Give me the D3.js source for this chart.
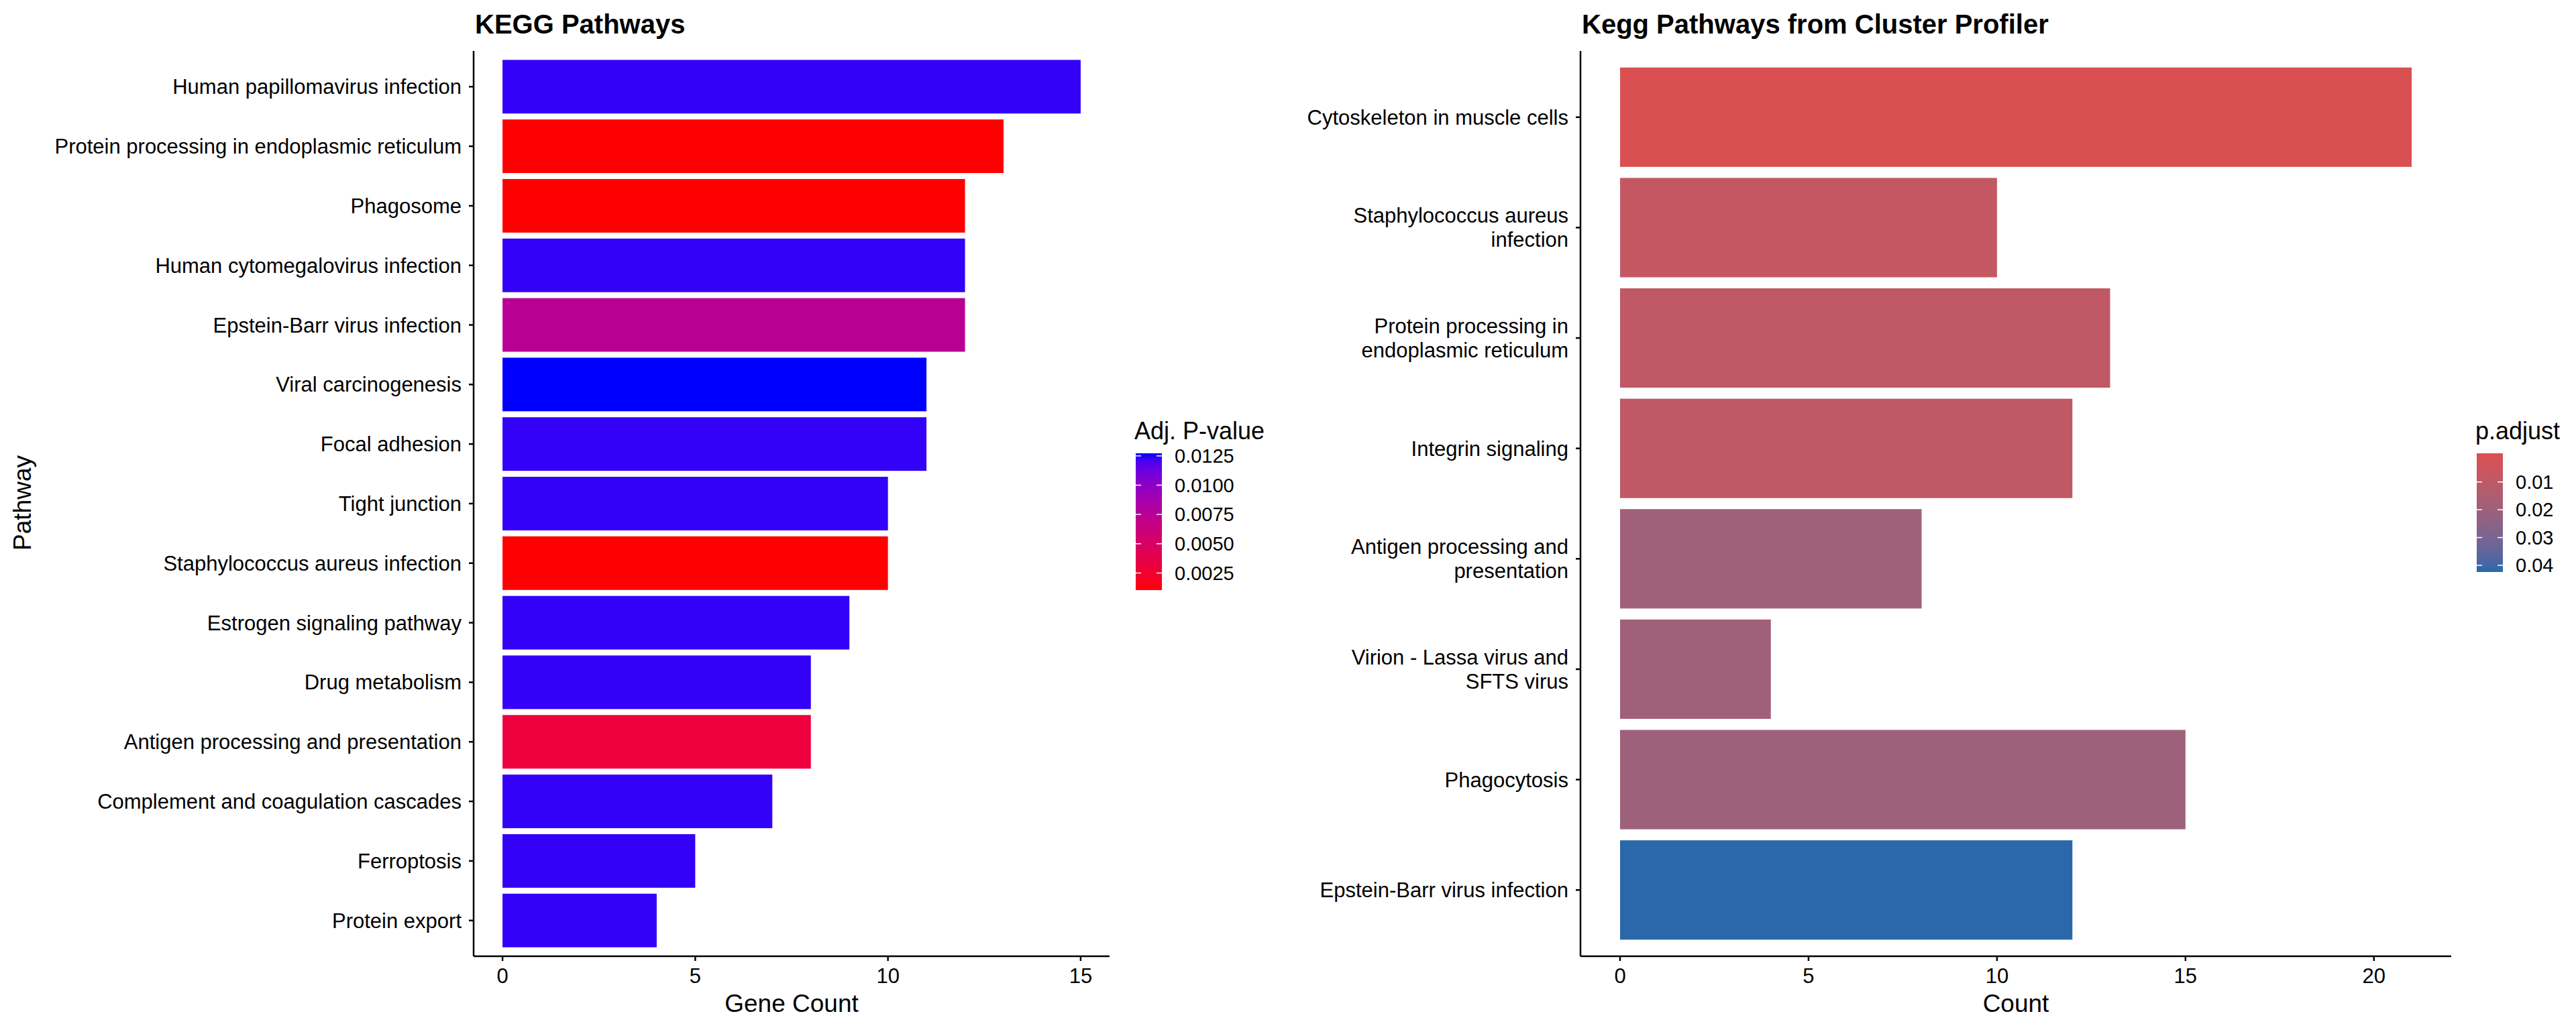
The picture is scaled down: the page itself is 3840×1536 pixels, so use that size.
<!DOCTYPE html>
<html><head><meta charset="utf-8">
<script src="https://cdn.jsdelivr.net/npm/d3@7"></script>
<style>body{margin:0;background:#fff}text{font-family:"Liberation Sans",Arial,sans-serif}</style>
</head><body><svg id="c" width="3840" height="1536"></svg>
<script>
const leftPathways=["Human papillomavirus infection","Protein processing in endoplasmic reticulum","Phagosome","Human cytomegalovirus infection","Epstein-Barr virus infection","Viral carcinogenesis","Focal adhesion","Tight junction","Staphylococcus aureus infection","Estrogen signaling pathway","Drug metabolism","Antigen processing and presentation","Complement and coagulation cascades","Ferroptosis","Protein export"];
const leftCounts=[15,13,12,12,12,11,11,10,10,9,8,8,7,5,4];
const leftPadj=[0.0124,0.00104,0.00104,0.0124,0.0075,0.01272,0.0124,0.0124,0.00104,0.0124,0.0124,0.0030,0.0124,0.0124,0.0124];
const leftLegendTicks=[0.0125,0.0100,0.0075,0.0050,0.0025];
const leftXTicks=[0,5,10,15];

const rightPathways=["Cytoskeleton in muscle cells","Staphylococcus aureus\ninfection","Protein processing in\nendoplasmic reticulum","Integrin signaling","Antigen processing and\npresentation","Virion - Lassa virus and\nSFTS virus","Phagocytosis","Epstein-Barr virus infection"];
const rightCounts=[21,10,13,12,8,4,15,12];
const rightPadj=[0.0002,0.008,0.009,0.009,0.019,0.019,0.020,0.0424];
const rightLegendTicks=[0.01,0.02,0.03,0.04];
const rightXTicks=[0,5,10,15,20];

const svg=d3.select("#c");

function panel(o){
  const g=svg.append("g");
  const x=d3.scaleLinear().domain(o.xdom).range([o.x0,o.x1]);
  const n=o.cats.length, top=76, bot=1426;
  const step=(bot-top)/(n-1+1.2);
  const yc=i=>top+step*(0.6+i);
  const col=d3.scaleLinear().domain(o.cdom).range(o.crange).interpolate(d3.interpolateLab);
  const bh=step*0.9;
  g.selectAll("rect.bar").data(o.counts).join("rect")
    .attr("x",x(0)).attr("y",(d,i)=>yc(i)-bh/2).attr("width",d=>x(d)-x(0)).attr("height",bh)
    .attr("fill",(d,i)=>col(o.padj[i]));
  // axes
  g.append("line").attr("x1",o.x0).attr("x2",o.x0).attr("y1",top).attr("y2",bot).attr("stroke","#000").attr("stroke-width",2.5);
  g.append("line").attr("x1",o.x0).attr("x2",o.x1).attr("y1",bot).attr("y2",bot).attr("stroke","#000").attr("stroke-width",2.5);
  o.cats.forEach((c,i)=>{
    g.append("line").attr("x1",o.x0-7).attr("x2",o.x0).attr("y1",yc(i)).attr("y2",yc(i)).attr("stroke","#000").attr("stroke-width",2.5);
    const lines=c.split("\n");
    const t=g.append("text").attr("x",o.x0-18).attr("text-anchor","end").attr("font-size",31).attr("fill","#000");
    lines.forEach((l,k)=>t.append("tspan").attr("x",o.x0-18).attr("y",yc(i)+11+(k-(lines.length-1)/2)*36).text(l));
  });
  o.xticks.forEach(v=>{
    g.append("line").attr("x1",x(v)).attr("x2",x(v)).attr("y1",bot).attr("y2",bot+7).attr("stroke","#000").attr("stroke-width",2.5);
    g.append("text").attr("x",x(v)).attr("y",bot+40).attr("text-anchor","middle").attr("font-size",31).text(v);
  });
  g.append("text").attr("x",(o.x0+o.x1)/2).attr("y",1509).attr("text-anchor","middle").attr("font-size",37).text(o.xtitle);
  g.append("text").attr("x",o.x0+2).attr("y",50).attr("font-size",40).attr("font-weight","bold").text(o.title);
  // legend
  const lx=o.lx, ly0=676, ly1=o.ly1;
  const ls=d3.scaleLinear().domain(o.ldom).range([ly0,ly1]);
  const gid="grad"+o.id;
  const grad=svg.append("defs").append("linearGradient").attr("id",gid).attr("x1",0).attr("x2",0).attr("y1",0).attr("y2",1);
  d3.range(0,1.0001,0.05).forEach(f=>{
    const v=o.ldom[0]+f*(o.ldom[1]-o.ldom[0]);
    grad.append("stop").attr("offset",f).attr("stop-color",col(v));
  });
  g.append("rect").attr("x",lx).attr("y",ly0).attr("width",39).attr("height",ly1-ly0).attr("fill",`url(#${gid})`);
  o.lticks.forEach(v=>{
    g.append("line").attr("x1",lx).attr("x2",lx+8).attr("y1",ls(v)).attr("y2",ls(v)).attr("stroke","#fff").attr("stroke-width",1.5);
    g.append("line").attr("x1",lx+31).attr("x2",lx+39).attr("y1",ls(v)).attr("y2",ls(v)).attr("stroke","#fff").attr("stroke-width",1.5);
    g.append("text").attr("x",lx+58).attr("y",ls(v)+10).attr("font-size",29).text(o.lfmt(v));
  });
  g.append("text").attr("x",lx-2).attr("y",655).attr("font-size",36).text(o.ltitle);
}

panel({id:"L",cats:leftPathways,counts:leftCounts,padj:leftPadj,xdom:[-0.75,15.75],x0:706,x1:1654,
  cdom:[0.00104,0.01272],crange:["red","blue"],xticks:leftXTicks,xtitle:"Gene Count",title:"KEGG Pathways",
  lx:1693,ly1:880,ldom:[0.01272,0.00104],lticks:leftLegendTicks,lfmt:d3.format(".4f"),ltitle:"Adj. P-value"});
panel({id:"R",cats:rightPathways,counts:rightCounts,padj:rightPadj,xdom:[-1.05,22.05],x0:2356,x1:3654,
  cdom:[0.0002,0.0424],crange:["#da5052","#2a68ab"],xticks:rightXTicks,xtitle:"Count",title:"Kegg Pathways from Cluster Profiler",
  lx:3692,ly1:853,ldom:[-0.0003,0.0424],lticks:rightLegendTicks,lfmt:d3.format(".2f"),ltitle:"p.adjust"});

svg.append("text").attr("transform","translate(46,750) rotate(-90)").attr("text-anchor","middle").attr("font-size",37).text("Pathway");
</script></body></html>
